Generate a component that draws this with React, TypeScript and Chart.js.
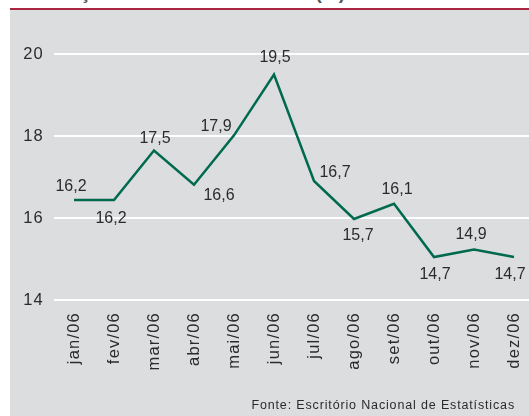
import React, { useEffect, useRef } from "react";
import { Chart, registerables } from "chart.js";

Chart.register(...registerables);

// ---- data ----
const months = ["jan/06", "fev/06", "mar/06", "abr/06", "mai/06", "jun/06", "jul/06", "ago/06", "set/06", "out/06", "nov/06", "dez/06"];
const inflation = [16.2, 16.2, 17.5, 16.6, 17.9, 19.5, 16.7, 15.7, 16.1, 14.7, 14.9, 14.7];
const yTicks = [14, 16, 18, 20];
const titleText = "Inflação anual no ano de 2006 (%)";
const sourceText = "Fonte: Escritório Nacional de Estatísticas";

// ---- style: where each value label sits relative to its point (dx, dy in px) ----
const labelOffsets: [number, number][] = [
  [-3, -13], [-3, 19], [1, -12], [25, 11], [-18, -9], [1, -17],
  [21, -8], [4, 17], [3, -14], [1, 18], [-3, -15], [-4, 18],
];

const FONT = '"Liberation Sans", Arial, Helvetica, sans-serif';
const TEXT = "#2b2b2b";
const CANVAS_W = 534;

const valueLabelPlugin = {
  id: "valueLabels",
  beforeDraw(chart: any) {
    chart.ctx.letterSpacing = "1.2px";
  },
  afterDatasetsDraw(chart: any) {
    const ctx = chart.ctx;
    const meta = chart.getDatasetMeta(0);
    const data = chart.data.datasets[0].data as number[];
    ctx.save();
    ctx.letterSpacing = "0px";
    ctx.font = `16px ${FONT}`;
    ctx.fillStyle = TEXT;
    ctx.textAlign = "center";
    ctx.textBaseline = "middle";
    meta.data.forEach((pt: any, i: number) => {
      const [dx, dy] = labelOffsets[i];
      const txt = data[i].toFixed(1).replace(".", ",");
      ctx.fillText(txt, pt.x + dx, pt.y + dy);
    });
    ctx.restore();
  },
};

export default function App() {
  const ref = useRef<HTMLCanvasElement>(null);

  useEffect(() => {
    if (!ref.current) return;
    const chart = new Chart(ref.current, {
      type: "line",
      data: {
        labels: months,
        datasets: [
          {
            data: inflation,
            borderColor: "#006a4e",
            borderWidth: 2.5,
            pointRadius: 0,
            tension: 0,
            fill: false,
            yAxisID: "y2",
            clip: false as any,
          },
        ],
      },
      options: {
        responsive: false,
        animation: false,
        devicePixelRatio: 1,
        layout: { padding: { top: 54, left: 0, right: 0, bottom: 0 } },
        plugins: { legend: { display: false }, tooltip: { enabled: false }, title: { display: false } },
        scales: {
          x: {
            type: "category",
            offset: true,
            grid: { display: false, drawTicks: false },
            border: { display: false },
            ticks: {
              autoSkip: false,
              minRotation: 90,
              maxRotation: 90,
              padding: 12,
              color: TEXT,
              font: { family: FONT, size: 16.5 },
            },
            afterFit: (s: any) => {
              s.height = 116;
              s.paddingLeft = 0;
              s.paddingRight = 0;
            },
          },
          y: {
            type: "linear",
            min: yTicks[0],
            max: yTicks[yTicks.length - 1],
            afterBuildTicks: (s: any) => {
              s.ticks = yTicks.map((v) => ({ value: v }));
            },
            grid: { color: "#ffffff", lineWidth: 2, drawTicks: false },
            border: { display: false },
            ticks: {
              padding: 10,
              color: TEXT,
              font: { family: FONT, size: 16.5 },
            },
            afterFit: (s: any) => {
              s.width = 54;
              s.paddingTop = 0;
              s.paddingBottom = 0;
            },
          },
          y2: {
            type: "linear",
            display: false,
            min: 13.57,
            max: 20.04,
          },
        },
      },
      plugins: [valueLabelPlugin],
    });
    return () => chart.destroy();
  }, []);

  return (
    <div
      style={{
        position: "absolute",
        left: 0,
        top: 0,
        width: 529,
        height: 416,
        overflow: "hidden",
        background: "#ffffff",
        fontFamily: FONT,
      }}
    >
      <div
        style={{
          position: "absolute",
          left: 41,
          top: -16.6,
          fontSize: 19,
          lineHeight: "19px",
          fontWeight: "bold",
          color: "#555555",
          whiteSpace: "nowrap",
        }}
      >
        {titleText}
      </div>
      <div style={{ position: "absolute", left: 10, top: 8, width: 519, height: 2, background: "#a8263f" }} />
      <div style={{ position: "absolute", left: 10, top: 10, width: 519, height: 406, background: "#dcdddf" }} />
      <canvas
        ref={ref}
        width={CANVAS_W}
        height={416}
        style={{ position: "absolute", left: 0, top: 0, width: CANVAS_W, height: 416 }}
      />
      <div
        style={{
          position: "absolute",
          right: 14,
          top: 399,
          fontSize: 12.5,
          lineHeight: "12.5px",
          letterSpacing: "0.85px",
          color: TEXT,
          whiteSpace: "nowrap",
        }}
      >
        {sourceText}
      </div>
    </div>
  );
}
